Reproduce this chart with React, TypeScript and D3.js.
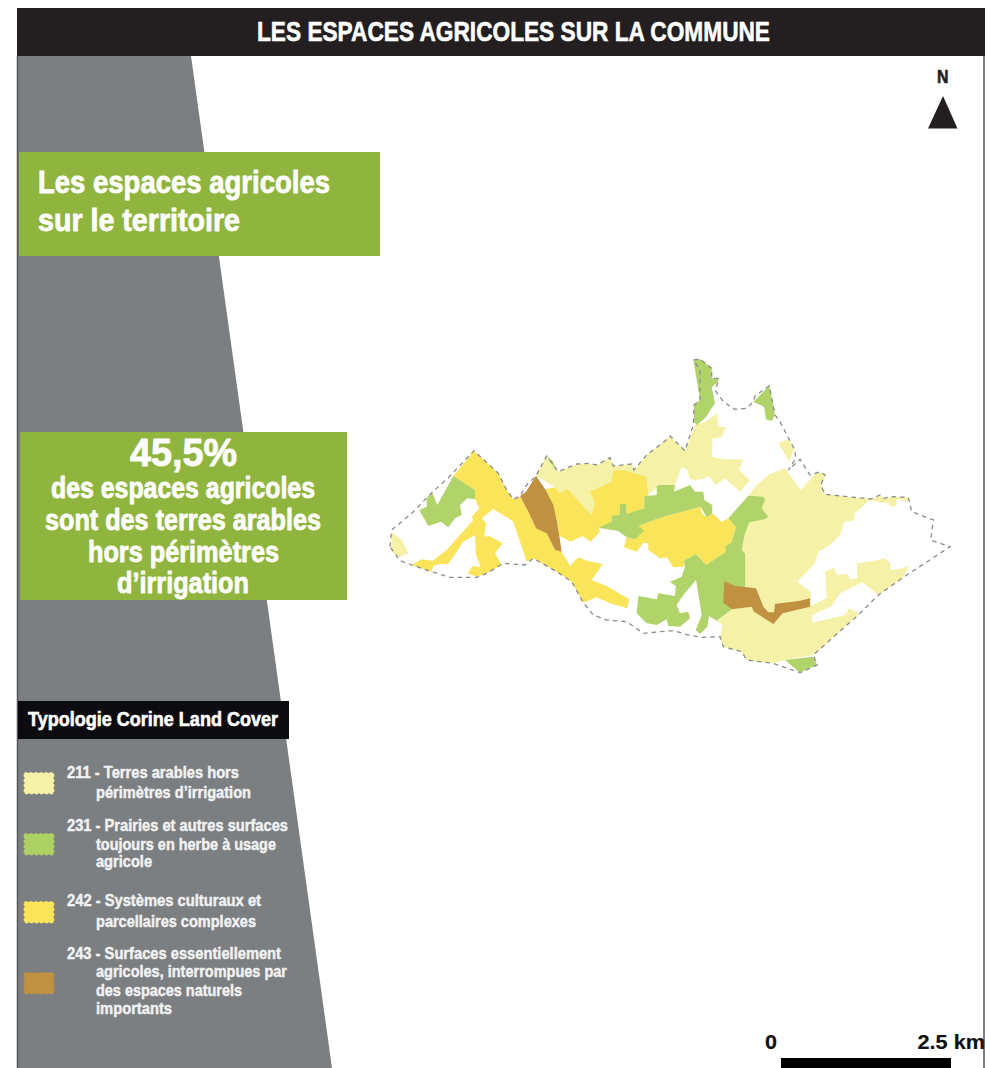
import * as d3 from "d3";

// Land cover parcels, in map units
const terresArables: [number, number][][] = [
  [[536,475.7],[546.7,456],[558.3,471.7],[566.7,468.3],[576.7,464],[588.3,463.3],[596.7,465],[610,457.7],[613.3,466],[631.7,464],[634,470],[646.7,455],[665,441],[670,436],[685,450.7],[695,425],[705,421.7],[717.3,413.3],[718.3,426.7],[726,427.3],[721.7,437.3],[712.7,438.3],[711.7,456.7],[723.3,459.3],[742.7,459.3],[739.3,470],[750,480.7],[740,491.7],[725,478.3],[716,485],[709.3,476.7],[695,480.7],[689.3,478.3],[687.7,470],[681.7,466.7],[675,485],[660,485],[648,495],[591.7,515],[567.3,488.7],[560,493.3],[555,487.3],[545.7,489]],
  [[748.3,495.7],[756.7,485],[770,474],[785,468.3],[800.7,490],[816,472.7],[823,473],[825,478],[820.7,485],[825,494.3],[870.7,499],[855,513.3],[853.3,520.7],[844.3,521.7],[840,535],[830,545],[818.3,551.7],[815,563.3],[797.3,581.7],[810.7,591.7],[810.7,606],[826.7,598.3],[825,571.7],[834.3,567.3],[836.7,575],[848.3,574],[850,579.3],[857.3,578.3],[856.7,563.3],[868.3,561.7],[885,558.3],[890,562.7],[890.7,570],[903,568.3],[909.3,565],[903.3,577.3],[878.3,595],[862.3,582.3],[840,593.3],[831.7,606],[812.3,615],[812.3,622.7],[845,615],[849.3,608.3],[859.3,614],[813.3,655],[785,660],[773.3,663.3],[746.7,660],[741.7,651.7],[723.3,646.7],[720,636.7],[722.7,625],[716.7,620.7],[731.7,609.3],[745,588],[745,553],[741.7,550],[745,533.3],[749,522],[765,510]],
  [[870.7,500],[880,495],[884,498.3],[890,496.7],[908.3,497.3],[909.3,501.7],[897.3,499],[895.7,506],[890,506.7],[888.3,502.7],[881.7,502.7],[875,506]],
  [[778.3,443.3],[788.3,439.3],[794.3,449],[789.3,461.7],[778.3,454]],
  [[391.7,531.7],[401.7,540],[408.3,553.3],[399.3,557.3],[391.7,551.7],[390,546.7]],
  [[401.7,521.7],[413.3,511.7],[415,521.7]],
];

const systemesCulturaux: [number, number][][] = [
  [[474,451],[498.3,473.3],[506.7,490],[513.3,499.3],[520,496.7],[526.7,508.3],[535,526.7],[546.7,533.3],[555,550],[561.7,551.7],[570,566],[578.3,557.3],[586.7,560.7],[602.7,564],[591.7,580],[606.7,586],[629.3,599.3],[627.3,608.3],[610,603.3],[596.7,597.3],[583.3,602.7],[571.7,581.7],[556.7,571.7],[533.3,558.3],[526.7,561.7],[513.3,521.7],[493.3,509],[481.7,518.3],[486,523.3],[484,536.7],[489.3,536],[502.7,543.3],[495,553.3],[501.7,565],[486.7,573.3],[476.7,576.7],[467.7,573.3],[472.7,566],[480.7,567.3],[476,555],[475,535],[463.3,541.7],[448.3,564],[440,564],[433.3,566],[431.7,571.7],[411.7,565],[421.7,559.3],[432.7,560.7],[446.7,550],[473.3,520],[471.7,517.3],[479.3,508.3],[475,499.3],[475,490],[453.3,476],[448.3,477.7]],
  [[545.7,489],[555,487.3],[560,493.3],[567.3,488.7],[591.7,515],[595,503.3],[590,491.7],[611.7,481.7],[613.3,470.7],[623.3,470],[646,476.7],[648.3,495],[644.3,497.3],[644.3,508.3],[626.7,515],[626,504],[620,504],[619.3,515],[611.7,517.3],[611.7,523.3],[598.3,527.7],[600,531.7],[590.7,541.7],[582.7,536],[570.7,541.7],[559.3,535.7],[556.7,518.3],[553.3,505]],
  [[638.3,526],[660,517.7],[700.7,506.7],[701.7,513.3],[706.7,517.3],[712.3,513.3],[721.7,521.7],[728.3,518.3],[736,527.3],[731.7,541.7],[725,546.7],[726,551.7],[706,565],[696,554],[684,560.7],[684,566.7],[673.3,567.3],[666.7,557.3],[660,558.3],[648.3,550],[648.3,543.3],[643.3,542.7],[636.7,551.7],[624,547.3],[626.7,537.3],[635,539.3],[644,530.7]],
];

const prairies: [number, number][][] = [
  [[598.3,527.7],[611.7,521.7],[611.7,516],[619.3,515],[620,504],[626,504],[626.7,514],[644.3,508.3],[644.3,496],[656.7,495],[656.7,486],[660,485],[675,485],[674,491.7],[690,485],[695,491.7],[703.3,491.7],[704.3,500],[712.3,505],[712.3,513.3],[706.7,517.3],[700.7,506.7],[660,517.7],[638.3,526],[644,530.7],[635,539.3],[626.7,537.3],[618.3,531],[604,536.7]],
  [[748.3,495.7],[763.3,496.7],[765,500],[761.7,508.3],[768.3,516.7],[765,519],[749.3,522.3],[745,533.3],[741.7,550],[745,553.3],[745.3,588.3],[731.7,609.3],[716.7,620.7],[709,616],[707.3,626.7],[700,634],[695.7,630],[701.7,615],[696,580],[683.3,595],[676.7,605],[680,613.3],[688.3,611.7],[690,618.3],[680,626.7],[668.3,626],[666.7,619.3],[656.7,625],[646.7,623.3],[636.7,613.3],[638.3,596],[656.7,599.3],[658.3,593.3],[675,596],[675.7,586],[670,581.7],[681.7,576.7],[685,566.7],[684,560.7],[696,554],[706,565],[726,551.7],[725,546.7],[731.7,541.7],[736,527.3],[728.3,518.3],[738.3,506.7]],
  [[453.3,476],[475,490],[475,499.3],[467.3,498.3],[460,505],[461.7,515],[455,518.3],[448.3,527.3],[441,521.7],[428.3,526],[419.3,510],[426.7,506.7],[426.7,498.3],[432.3,492.7],[437.3,505],[454,485]],
  [[693.3,360],[700,359],[711.7,368.3],[711.7,378.3],[718.3,378.3],[718.3,381.7],[711.7,387.3],[715,403.3],[705,418.3],[696.7,425],[694,421.7],[694,405],[700,400],[700,370]],
  [[769.3,385.7],[775,415],[771.7,421],[766,419.3],[764,406.7],[753.3,401.7],[755,396]],
  [[785,660],[812.7,656.7],[817.3,665],[806.7,669.3],[800,672.7],[788.3,668.3]],
  [[546.7,456],[553.3,461.7],[556,470.7],[551.7,466.7]],
];

const surfacesNaturelles: [number, number][][] = [
  [[536,475.7],[545.7,490],[553.3,505],[556.7,520],[559.3,535.7],[561.7,551.7],[555,550],[546.7,533.3],[536,528.3],[528.3,511.7],[520,496],[526,491.7],[526.7,485]],
  [[724.3,581],[735,586],[756,588.3],[763.3,606.7],[768.3,612.3],[774,612.3],[775,604],[800,600.7],[810,598.3],[810,606.7],[782.7,613.3],[773.3,624],[754,611.7],[751.7,606.7],[731.7,609.3],[723.3,602.7],[723,590]],
];

const communeBoundary: [number, number][] = [
  [390,546.7],[391.7,530],[401.7,521.7],[413.3,511.7],[431.7,492.7],[448.3,477.7],[474,450.7],[498.3,473.3],[506.7,490],[513.3,499.3],[520,496],[526.7,485],[536,475.7],[546.7,456],[558.3,471.7],[576.7,464],[588.3,463.3],[596.7,465],[610,457.7],[613.3,466],[631.7,464],[634,470],[646.7,455],[665,441],[670,436],[685,450.7],[693.3,425],[694,405],[700,400],[700,370],[693.3,360],[700,359],[711.7,368.3],[711.7,378.3],[718.3,378.3],[718.3,381.7],[715,390],[723.3,401.7],[735,409.3],[746.7,408.3],[753.3,401.7],[755,396],[769.3,385.7],[775,415],[780,421.7],[794.3,449],[796,458],[788.3,470],[800,459.3],[810,475],[820,471.7],[825,475],[820.7,485],[825,494.3],[870.7,499],[880,495],[884,498.3],[890,496.7],[908.3,497.3],[911.7,511.7],[933.3,520],[930.7,540],[950,546.7],[903.3,577.3],[878.3,595],[859.3,614],[813.3,655],[817.3,665],[800,672.7],[773.3,663.3],[746.7,660],[741.7,651.7],[723.3,646.7],[720,636.7],[701.7,637.3],[688.3,635],[673.3,630.7],[660,631.7],[643.3,633.3],[626.7,621.7],[606.7,620],[593.3,615],[583.3,602.7],[571.7,581.7],[556.7,571.7],[533.3,558.3],[525,565],[503.3,563.3],[486.7,573.3],[476.7,577.3],[450,577.3],[431.7,571.7],[411.7,565],[400,560.7],[391.7,551.7],
];

const layerParcels = [terresArables, systemesCulturaux, prairies, surfacesNaturelles];
const layerColors = ["#f5f2a8", "#fae45a", "#b0d46a", "#bf9140"];

const legendColors = ["#f5f2a8", "#aed164", "#fae45a", "#bf9140"];
const legendSwatchTops = [773, 834, 902, 973];

const legendLines: [string, number, number, number][] = [
  ["211 - Terres arables hors", 67, 239, 778],
  ["périmètres d’irrigation", 96, 251, 798],
  ["231 - Prairies et autres surfaces", 67, 288, 831],
  ["toujours en herbe à usage", 96, 276, 850],
  ["agricole", 96, 152, 867],
  ["242 - Systèmes culturaux et", 67, 261, 906],
  ["parcellaires complexes", 96, 256, 927],
  ["243 - Surfaces essentiellement", 67, 281, 959],
  ["agricoles, interrompues par", 96, 287, 977],
  ["des espaces naturels", 96, 242, 996],
  ["importants", 96, 172, 1014],
];

const keyFigureLines: [string, number, number, number, number][] = [
  ["45,5%", 130, 237, 466, 38],
  ["des espaces agricoles", 51, 315, 498, 29],
  ["sont des terres arables", 45, 321, 530, 29],
  ["hors périmètres", 88, 279, 561.5, 29],
  ["d’irrigation", 117, 249, 592.5, 29],
];

const FONT = "'Liberation Sans', Arial, sans-serif";

// the original face is a heavy condensed grotesque, so thicken and squeeze Liberation
function FitText({ t, x0, x1, y, size, fill = "#fff", heavy = 0.6 }: any) {
  return (
    <text x={x0} y={y} textLength={x1 - x0} lengthAdjust="spacingAndGlyphs"
      fontFamily={FONT} fontWeight="bold" fontSize={size} fill={fill}
      stroke={fill} strokeWidth={heavy} strokeLinejoin="round">
      {t}
    </text>
  );
}

export default function App() {
  const path = d3.geoPath(d3.geoIdentity());
  const polygon = (ring: [number, number][]) => path({ type: "Polygon", coordinates: [ring] } as any) || "";
  const boundary = path({ type: "Polygon", coordinates: [communeBoundary] } as any) || "";

  return (
    <svg width={990} height={1068} style={{ position: "absolute", left: 0, top: 0, display: "block" }}>
      <rect width={990} height={1068} fill="#fff" />

      {/* side panel and frame */}
      <polygon points="18,56 191,56 332,1068 18,1068" fill="#7c7f82" />
      <line x1={17.5} y1={56} x2={17.5} y2={1068} stroke="#55565a" strokeWidth={1.5} />
      <line x1={984} y1={56} x2={984} y2={1068} stroke="#55565a" strokeWidth={1.5} />
      <rect x={17} y={8} width={968} height={48} fill="#231f20" />
      <FitText t="LES ESPACES AGRICOLES SUR LA COMMUNE" x0={257} x1={770} y={41} size={28} />

      <rect x={19} y={152} width={361} height={104} fill="#8fb53e" />
      <FitText t="Les espaces agricoles" x0={38} x1={330} y={193} size={31} heavy={0.8} />
      <FitText t="sur le territoire" x0={38} x1={240} y={231} size={31} heavy={0.8} />

      <rect x={20} y={432} width={327} height={168} fill="#8fb53e" />
      {keyFigureLines.map(([t, x0, x1, y, size]) => (
        <FitText key={t} t={t} x0={x0} x1={x1} y={y} size={size} heavy={0.8} />
      ))}

      <rect x={18} y={701} width={271} height={38} fill="#0c0b10" />
      <FitText t="Typologie Corine Land Cover" x0={28} x1={278} y={726} size={20} />

      {legendColors.map((c, i) => (
        <rect key={c} x={24.5} y={legendSwatchTops[i]} width={29} height={20.5} fill={c}
          stroke={c} strokeWidth={1.6} strokeDasharray="3 2" />
      ))}
      {legendLines.map(([t, x0, x1, y]) => (
        <FitText key={t} t={t} x0={x0} x1={x1} y={y} size={16.5} fill="#f2f2f2" heavy={0.45} />
      ))}

      {/* map */}
      {layerParcels.map((parcels, i) => (
        <g key={i} fill={layerColors[i]}>
          {parcels.map((ring, j) => (
            <path key={j} d={polygon(ring)} />
          ))}
        </g>
      ))}
      <path d={boundary} fill="none" stroke="#8c8c8c" strokeWidth={1.3} strokeDasharray="4.5 4" />

      {/* north arrow */}
      <FitText t="N" x0={937} x1={948.5} y={83} size={19} fill="#231f20" />
      <polygon points="943,96 957.5,128.5 928,128.5" fill="#231f20" />

      {/* scale bar */}
      <FitText t="0" x0={765} x1={777} y={1049} size={20} fill="#111" heavy={0.2} />
      <FitText t="2.5 km" x0={917.5} x1={985} y={1049} size={20} fill="#111" heavy={0.2} />
      <rect x={781} y={1058} width={170} height={10} fill="#000" />
    </svg>
  );
}
